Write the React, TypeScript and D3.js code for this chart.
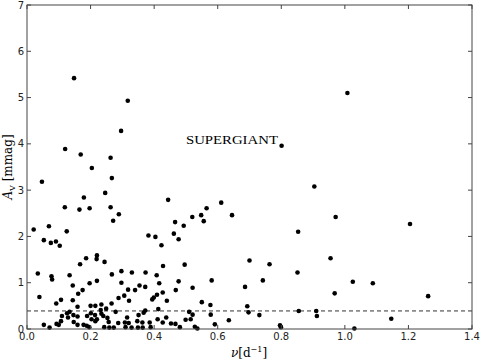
import React from "react";
import * as d3 from "d3";

const freq = [
  0.148, 0.317, 1.008, 0.296, 0.120, 0.169, 0.263, 0.204, 0.047, 0.267,
  0.246, 0.179, 0.119, 0.165, 0.197, 0.263, 0.289, 0.271, 0.069, 0.021,
  0.125, 0.382, 0.404, 0.053, 0.075, 0.091, 0.103, 0.186, 0.167, 0.034,
  0.077, 0.079, 0.134, 0.175, 0.144, 0.161, 0.039, 0.107, 0.092, 0.144,
  0.159, 0.134, 0.126, 0.146, 0.129, 0.110, 0.159, 0.107, 0.147, 0.093,
  0.100, 0.159, 0.178, 0.053, 0.071, 0.220, 0.219, 0.244, 0.197, 0.220,
  0.267, 0.297, 0.330, 0.373, 0.297, 0.318, 0.340, 0.354, 0.372, 0.306,
  0.288, 0.321, 0.266, 0.200, 0.215, 0.234, 0.249, 0.279, 0.232, 0.201,
  0.234, 0.214, 0.240, 0.367, 0.351, 0.315, 0.189, 0.203, 0.220, 0.215,
  0.253, 0.257, 0.287, 0.308, 0.320, 0.347, 0.363, 0.188, 0.196, 0.243,
  0.259, 0.273, 0.310, 0.329, 0.349, 0.364, 0.462, 0.477, 0.423, 0.428,
  0.496, 0.408, 0.477, 0.416, 0.468, 0.521, 0.427, 0.409, 0.399, 0.394,
  0.440, 0.550, 0.413, 0.372, 0.510, 0.521, 0.438, 0.411, 0.499, 0.515,
  0.386, 0.427, 0.453, 0.467, 0.389, 0.481, 0.528, 0.536, 0.700, 0.581,
  0.742, 0.686, 0.577, 0.693, 0.578, 0.697, 0.731, 0.635, 0.591, 0.763,
  0.851, 0.796, 0.799, 0.855, 0.910, 0.912, 0.801, 0.904, 0.444, 0.611,
  0.565, 0.520, 0.548, 0.556, 0.645, 0.466, 0.493, 0.853, 0.971, 1.205,
  0.955, 1.025, 1.088, 0.968, 1.262, 1.146, 1.030,
];

const amp = [
  5.42, 4.93, 5.10, 4.28, 3.89, 3.77, 3.70, 3.48, 3.18, 3.26,
  2.94, 2.84, 2.63, 2.58, 2.61, 2.63, 2.48, 2.34, 2.22, 2.15,
  2.11, 2.02, 1.99, 1.92, 1.86, 1.89, 1.80, 1.53, 1.40, 1.20,
  1.14, 1.07, 1.16, 0.84, 0.94, 0.76, 0.69, 0.63, 0.55, 0.62,
  0.48, 0.37, 0.34, 0.30, 0.25, 0.28, 0.27, 0.17, 0.15, 0.11,
  0.09, 0.09, 0.09, 0.09, 0.03, 1.59, 1.51, 1.45, 0.99, 1.04,
  1.18, 1.25, 1.22, 1.22, 1.00, 0.85, 0.84, 0.94, 0.91, 0.72,
  0.67, 0.61, 0.55, 0.50, 0.50, 0.53, 0.44, 0.37, 0.41, 0.34,
  0.33, 0.30, 0.28, 0.35, 0.30, 0.25, 0.28, 0.21, 0.21, 0.17,
  0.24, 0.15, 0.13, 0.14, 0.13, 0.17, 0.14, 0.07, 0.04, 0.04,
  0.03, 0.03, 0.04, 0.03, 0.03, 0.03, 2.06, 1.94, 1.81, 1.36,
  1.39, 1.16, 1.03, 0.99, 0.84, 0.89, 0.79, 0.74, 0.68, 0.64,
  0.61, 0.58, 0.43, 0.40, 0.37, 0.31, 0.25, 0.21, 0.20, 0.21,
  0.14, 0.14, 0.12, 0.11, 0.04, 0.04, 0.05, 0.01, 1.48, 1.05,
  1.05, 0.91, 0.52, 0.49, 0.31, 0.36, 0.30, 0.19, 0.10, 1.40,
  1.22, 0.08, 0.04, 0.39, 0.39, 0.28, 3.96, 3.08, 2.79, 2.73,
  2.61, 2.42, 2.46, 2.33, 2.46, 2.31, 2.23, 2.10, 2.42, 2.27,
  1.53, 1.02, 0.99, 0.77, 0.71, 0.22, 0.01,
];

const xTicks = [0.0, 0.2, 0.4, 0.6, 0.8, 1.0, 1.2, 1.4];
const yTicks = [0, 1, 2, 3, 4, 5, 6, 7];
const threshold = 0.39;
const annotation = { text: "SUPERGIANT", x: 0.5, y: 4.0 };

export default function App() {
  const W = 480;
  const H = 361;
  const left = 27;
  const right = 472;
  const top = 5;
  const bottom = 329;
  const x = d3.scaleLinear().domain([0, 1.4]).range([left, right]);
  const y = d3.scaleLinear().domain([0, 7]).range([bottom, top]);
  const axisColor = "#444";
  const tickFont = "DejaVu Sans, sans-serif";
  const serif = "DejaVu Serif, Liberation Serif, serif";

  return (
    <svg
      width={W}
      height={H}
      style={{ position: "absolute", left: 0, top: 0, background: "#fff" }}
    >
      <rect x={0} y={0} width={W} height={H} fill="#fff" />
      {/* dashed threshold */}
      <line
        x1={x(0)}
        x2={x(1.4)}
        y1={y(threshold)}
        y2={y(threshold)}
        stroke="#333"
        strokeWidth={1}
        strokeDasharray="4,3"
      />
      {/* points */}
      {freq.map((f, i) => (
        <circle key={i} cx={x(f)} cy={y(amp[i])} r={2.3} fill="#000" />
      ))}
      {/* frame */}
      <rect
        x={left}
        y={top}
        width={right - left}
        height={bottom - top}
        fill="none"
        stroke={axisColor}
        strokeWidth={1}
      />
      {/* x ticks */}
      {xTicks.map((t) => (
        <g key={"x" + t}>
          <line x1={x(t)} x2={x(t)} y1={bottom} y2={bottom - 4} stroke={axisColor} />
          <line x1={x(t)} x2={x(t)} y1={top} y2={top + 4} stroke={axisColor} />
          <text
            x={x(t)}
            y={340}
            textAnchor="middle"
            fontFamily={tickFont}
            fontSize={10}
            fill="#222"
          >
            {t.toFixed(1)}
          </text>
        </g>
      ))}
      {/* y ticks */}
      {yTicks.map((t) => (
        <g key={"y" + t}>
          <line x1={left} x2={left + 4} y1={y(t)} y2={y(t)} stroke={axisColor} />
          <line x1={right} x2={right - 4} y1={y(t)} y2={y(t)} stroke={axisColor} />
          <text
            x={left - 3}
            y={y(t) + 3.6}
            textAnchor="end"
            fontFamily={tickFont}
            fontSize={10}
            fill="#222"
          >
            {t}
          </text>
        </g>
      ))}
      {/* annotation */}
      <text
        x={x(annotation.x)}
        y={y(annotation.y)}
        fontFamily="Liberation Serif, serif"
        fontSize={13.5}
        textLength={92}
        lengthAdjust="spacingAndGlyphs"
        fill="#000"
      >
        {annotation.text}
      </text>
      {/* x label */}
      <text x={249} y={357} textAnchor="middle" fontFamily={serif} fontSize={12} fill="#000">
        <tspan fontStyle="italic">ν</tspan>
        <tspan>[d</tspan>
        <tspan fontSize={8} dy={-5}>−1</tspan>
        <tspan dy={5}>]</tspan>
      </text>
      {/* y label */}
      <text
        transform={`translate(12, ${(top + bottom) / 2}) rotate(-90)`}
        textAnchor="middle"
        fontFamily={serif}
        fontSize={12}
        fill="#000"
      >
        <tspan fontStyle="italic">A</tspan>
        <tspan fontSize={8} dy={3}>V</tspan>
        <tspan dy={-3}> [mmag]</tspan>
      </text>
    </svg>
  );
}
